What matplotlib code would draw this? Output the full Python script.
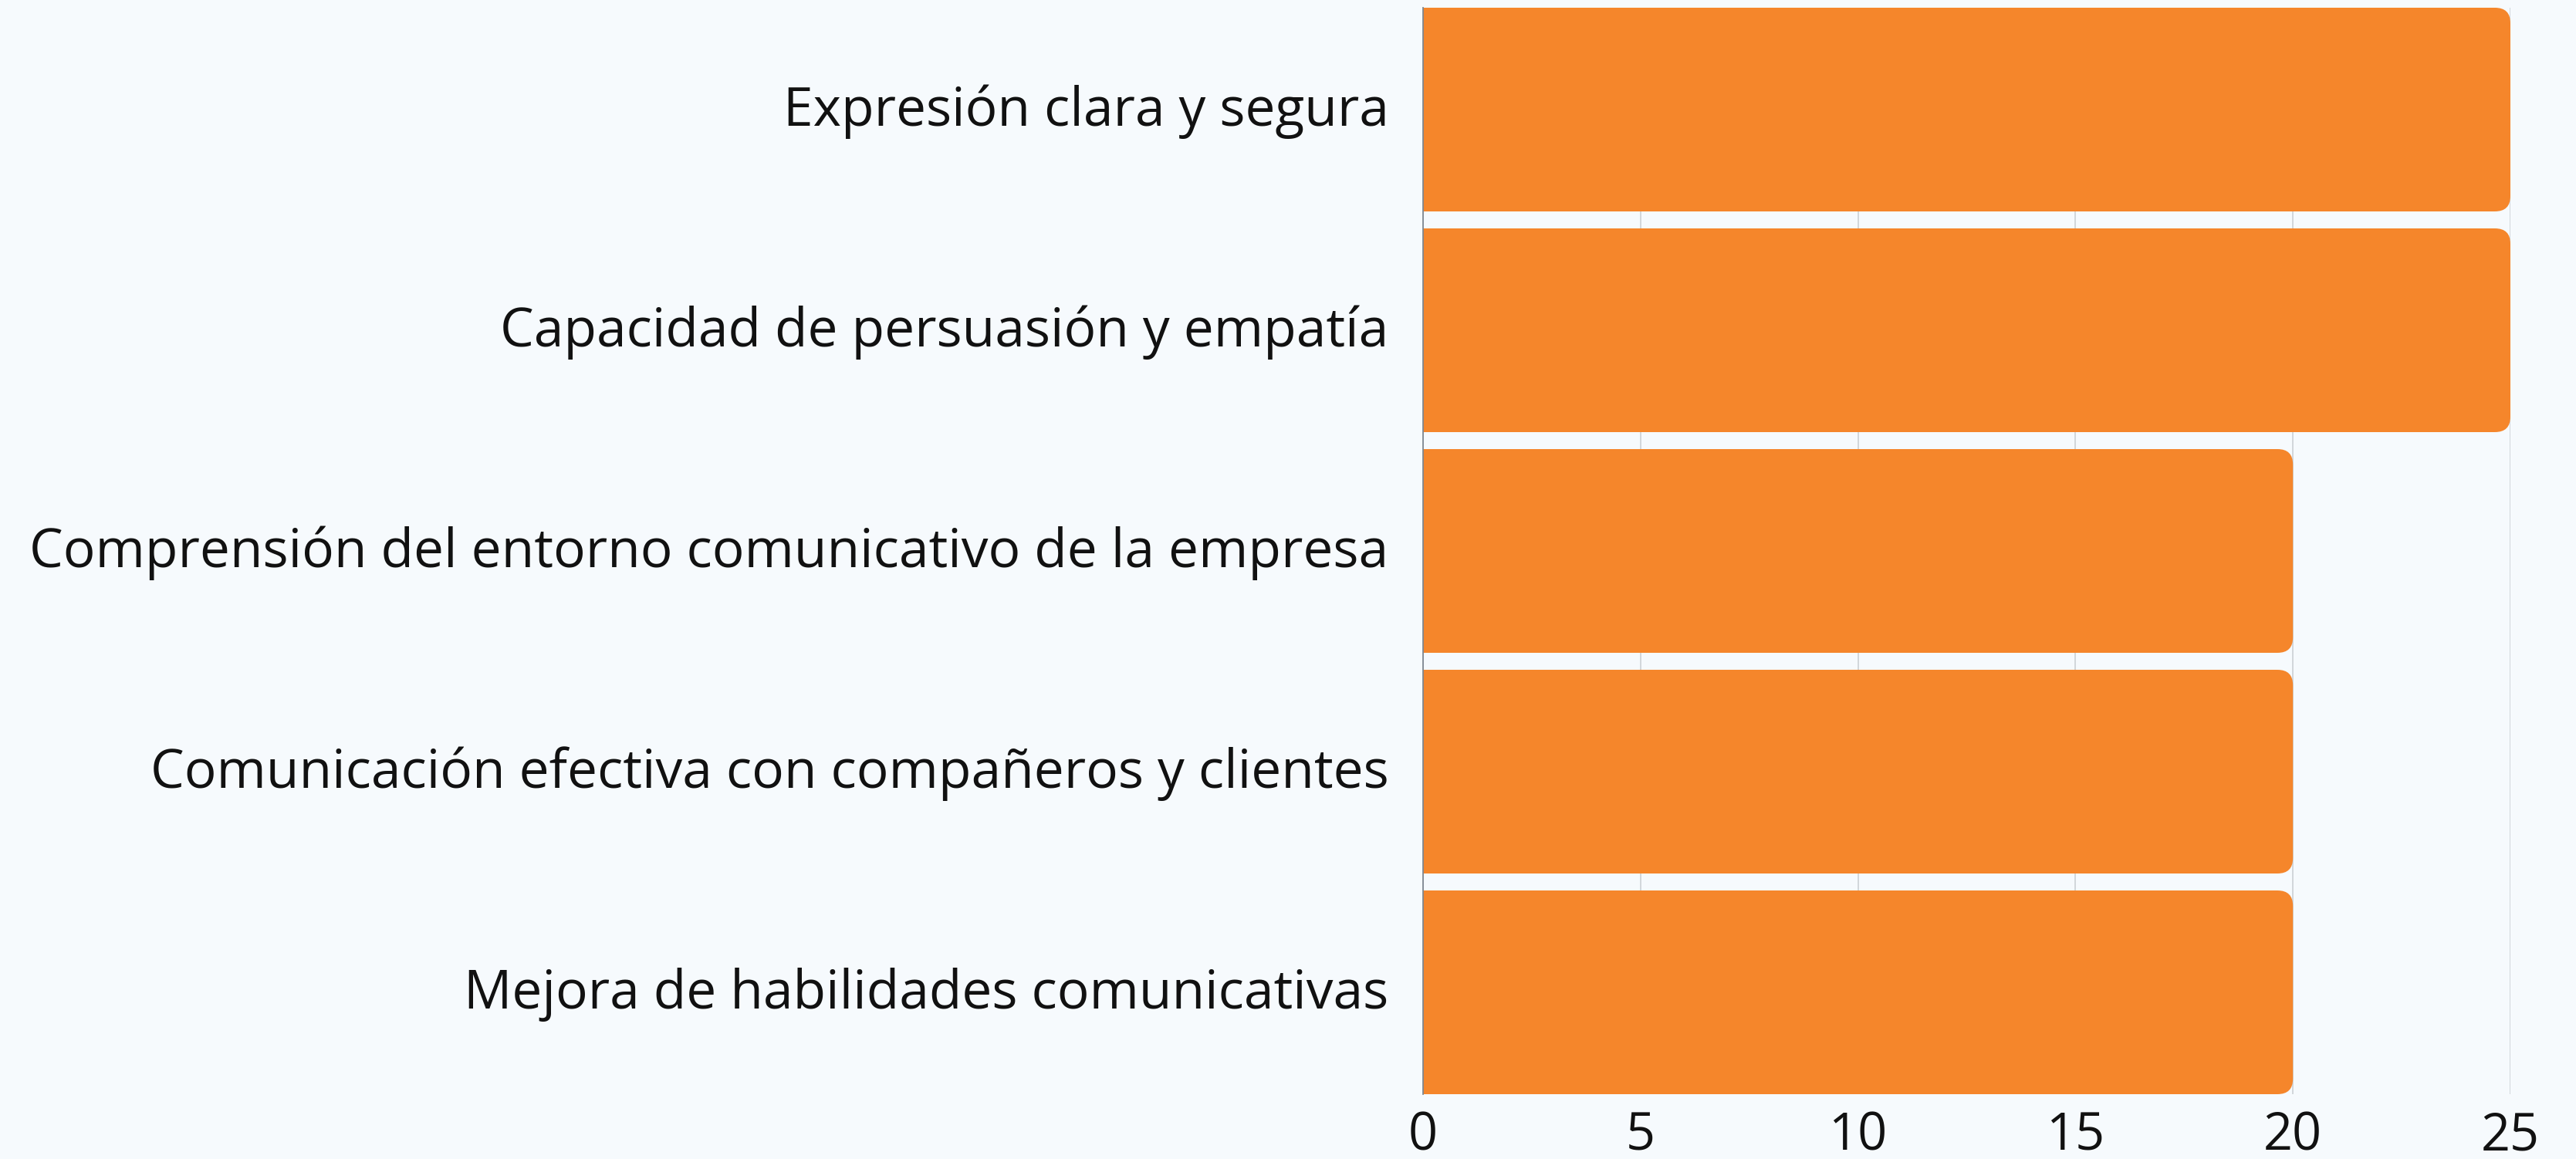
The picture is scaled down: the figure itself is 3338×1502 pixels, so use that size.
import matplotlib.pyplot as plt
import matplotlib.transforms as mtrans
from matplotlib.patches import FancyBboxPatch

# data ---------------------------------
categorias = [
    "Expresión clara y segura",
    "Capacidad de persuasión y empatía",
    "Comprensión del entorno comunicativo de la empresa",
    "Comunicación efectiva con compañeros y clientes",
    "Mejora de habilidades comunicativas",
]
valores = [25, 25, 20, 20, 20]
xticks = [0, 5, 10, 15, 20, 25]

# style ---------------------------------
naranja = "#F5862B"
fondo = "#F6FAFD"
alto = 0.923
radio_px = 20

W, H = 3338, 1502
fig = plt.figure(figsize=(W / 100, H / 100), dpi=100, facecolor=fondo)
ax = fig.add_axes([1844 / W, (H - 1418) / H, (3253 - 1844) / W, 1408 / H])
ax.set_facecolor(fondo)

ax.set_xlim(0, 25)
ax.set_ylim(len(categorias) - 1 + alto / 2, -alto / 2)

# px per data unit, used to keep the corners round
px_x = (3253 - 1844) / 25
px_y = 1408 / (len(categorias) - 1 + alto)
r = radio_px / px_x

ys = list(range(len(categorias)))
ax.barh(ys, [v - r for v in valores], height=alto, color=naranja, zorder=3)
for y, v in zip(ys, valores):
    caja = FancyBboxPatch((0, y - alto / 2), v, alto,
                          boxstyle="round,pad=0,rounding_size=%f" % r,
                          mutation_aspect=px_x / px_y,
                          facecolor=naranja, edgecolor="none", zorder=3)
    ax.add_patch(caja)

ax.set_yticks(ys)
ax.set_yticklabels(categorias)
ax.set_xticks(xticks)
ax.tick_params(axis="both", length=0, labelcolor="#111111")
ax.tick_params(axis="y", pad=32, labelsize=50)
ax.tick_params(axis="x", pad=15, labelsize=48)
for lab in ax.get_xticklabels() + ax.get_yticklabels():
    lab.set_family("Open Sans")
# labels sit a bit above bar centre in the original
sube = mtrans.ScaledTranslation(0, 0.06, fig.dpi_scale_trans)
for lab in ax.get_yticklabels():
    lab.set_transform(lab.get_transform() + sube)

ax.grid(axis="x", color="#CBD0D5", linewidth=1.2, zorder=0)
ax.set_axisbelow(True)
for s in ["top", "right", "bottom"]:
    ax.spines[s].set_visible(False)
ax.spines["left"].set_color("#7E8790")
ax.spines["left"].set_linewidth(1.3)
ax.spines["left"].set_zorder(4)

plt.savefig("out.png", dpi=100, facecolor=fondo)
